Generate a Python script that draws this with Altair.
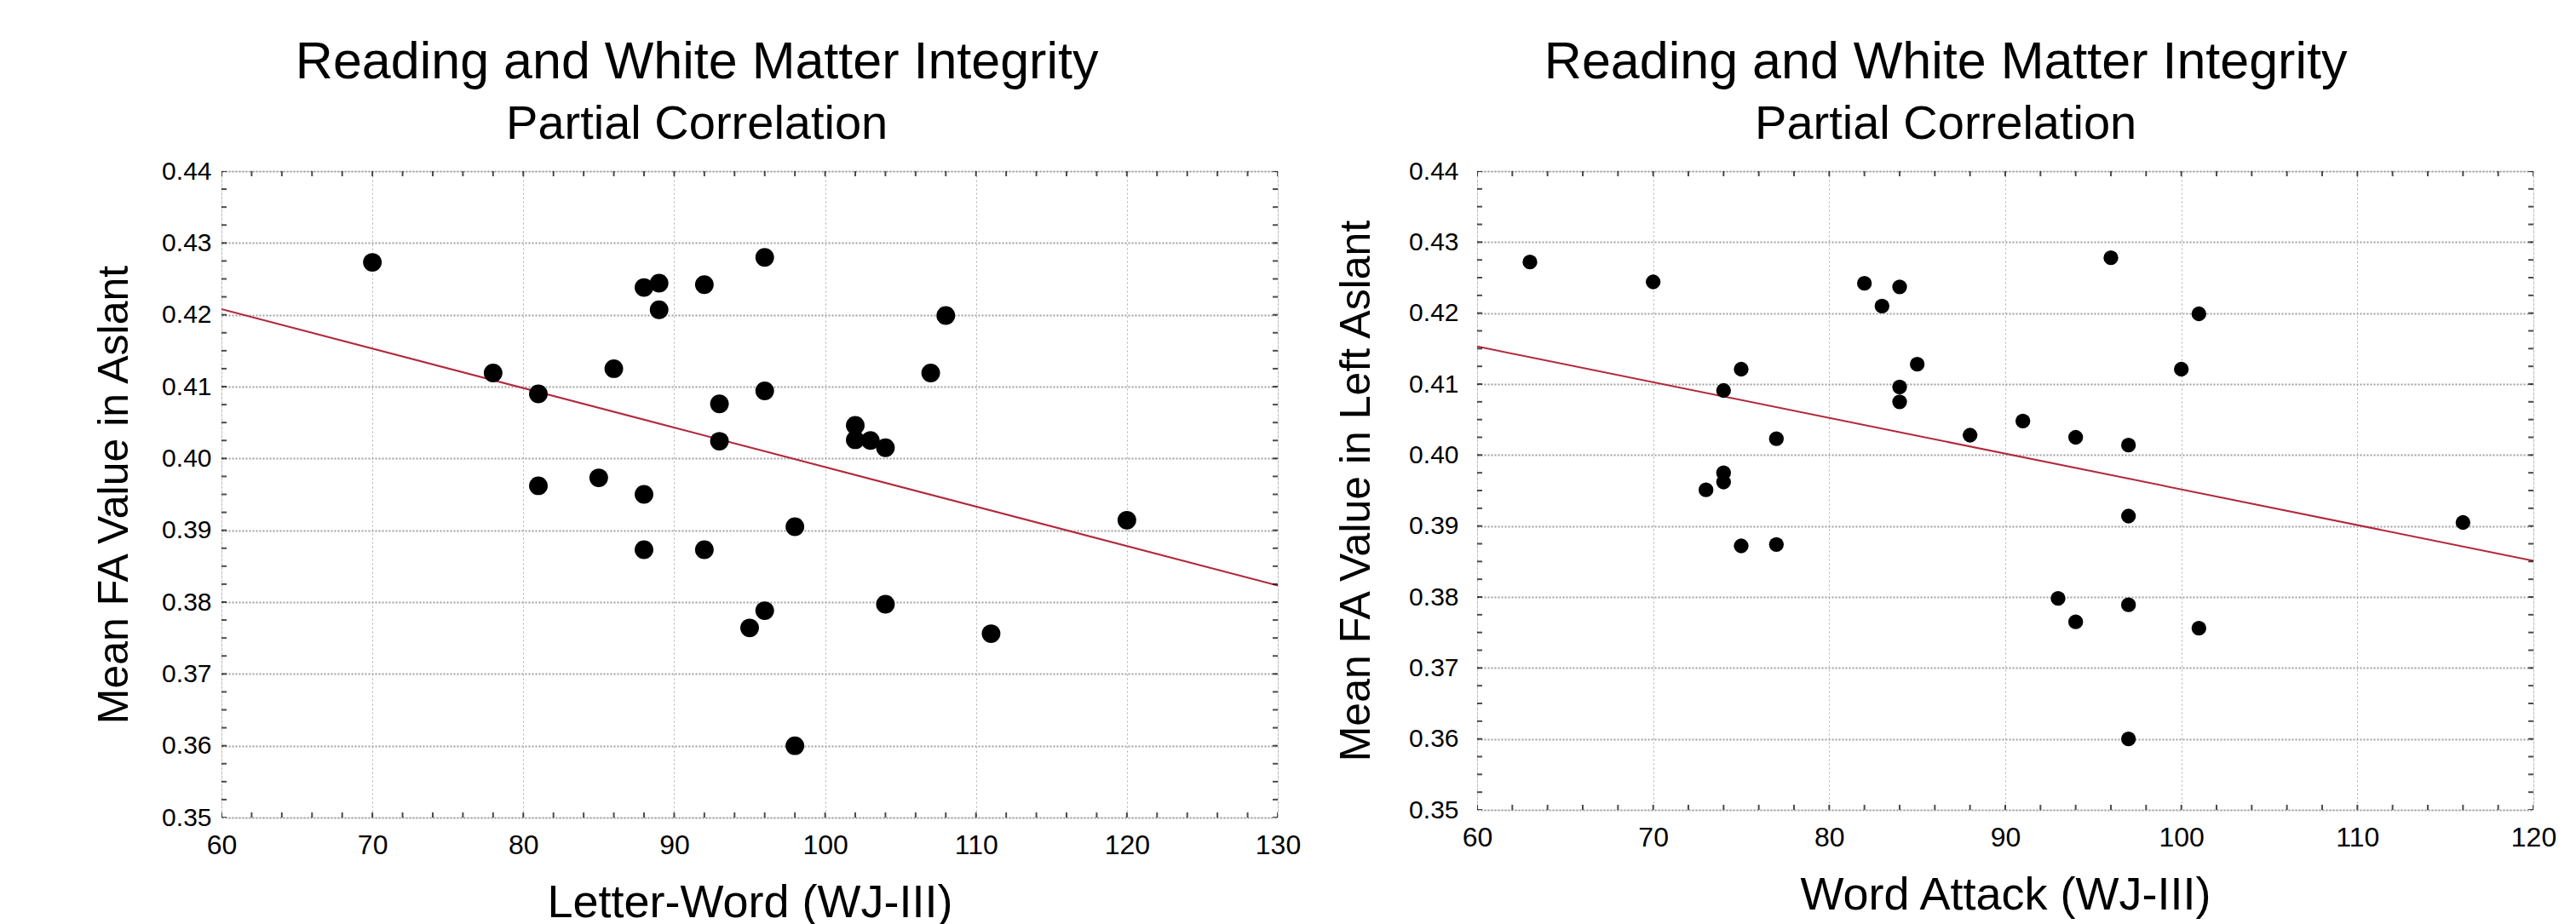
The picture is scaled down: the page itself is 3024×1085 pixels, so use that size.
import altair as alt
import pandas as pd
import numpy as np

# ---- data ----
left_x = [70, 96, 88, 89, 92, 89, 108, 78, 86, 107, 81, 96, 93, 102, 93, 102, 103, 104,
          81, 85, 88, 98, 88, 92, 120, 104, 96, 95, 111, 98]
left_y = [0.4273, 0.4280, 0.4238, 0.4244, 0.4242, 0.4207, 0.4199, 0.4119, 0.4125, 0.4119,
          0.4090, 0.4094, 0.4076, 0.4046, 0.4024, 0.4026, 0.4025, 0.4015,
          0.3962, 0.3973, 0.3950, 0.3905, 0.3873, 0.3873, 0.3914, 0.3797, 0.3788, 0.3764,
          0.3756, 0.3600]
left_fit_x = [60, 130]
left_fit_y = [0.4208, 0.3823]

right_x = [63, 70, 82, 84, 83, 96, 101, 75, 85, 100, 74, 84, 84, 91, 88, 94, 77, 97,
           74, 74, 73, 75, 77, 97, 116, 93, 97, 94, 101, 97]
right_y = [0.4272, 0.4244, 0.4242, 0.4237, 0.4210, 0.4278, 0.4199, 0.4121, 0.4128, 0.4121,
           0.4091, 0.4096, 0.4075, 0.4048, 0.4028, 0.4025, 0.4023, 0.4014,
           0.3975, 0.3962, 0.3951, 0.3872, 0.3874, 0.3914, 0.3905, 0.3798, 0.3789, 0.3765,
           0.3756, 0.3600]
right_fit_x = [60, 120]
right_fit_y = [0.4153, 0.3851]

title_text = "Reading and White Matter Integrity"
subtitle_text = "Partial Correlation"
left_xtitle = "Letter-Word (WJ-III)"
left_ytitle = "Mean FA Value in Aslant"
right_xtitle = "Word Attack (WJ-III)"
right_ytitle = "Mean FA Value in Left Aslant"

y_ticks = [0.35, 0.36, 0.37, 0.38, 0.39, 0.40, 0.41, 0.42, 0.43, 0.44]
left_x_ticks = [60, 70, 80, 90, 100, 110, 120, 130]
right_x_ticks = [60, 70, 80, 90, 100, 110, 120]

FONT = "Liberation Sans"


def panel(xs, ys, fx, fy, xticks, xtitle, ytitle, w, h, psize, ytitle_pad, ylab_pad):
    xmin, xmax = xticks[0], xticks[-1]
    ymin, ymax = y_ticks[0], y_ticks[-1]
    xscale = alt.Scale(domain=[xmin, xmax], nice=False, zero=False)
    yscale = alt.Scale(domain=[ymin, ymax], nice=False, zero=False)
    xaxis = alt.Axis(values=xticks, title=xtitle, titleFontSize=54, titleFont=FONT,
                     titleFontWeight="normal", titleColor="black", titlePadding=25,
                     labelFontSize=32, labelFont=FONT, labelColor="black", labelPadding=17,
                     labelFlush=False, labelOverlap=False,
                     ticks=False, domain=False, grid=True, gridColor="#b0b0b0",
                     gridDash=[2, 3], gridWidth=1)
    yaxis = alt.Axis(values=y_ticks, format=".2f", title=ytitle, titleFontSize=50,
                     titleFont=FONT, titleFontWeight="normal", titleColor="black",
                     titlePadding=ytitle_pad, labelFontSize=30, labelFont=FONT,
                     labelColor="black", labelPadding=ylab_pad, labelFlush=False,
                     labelOverlap=False, ticks=False, domain=False,
                     grid=True, gridColor="#a0a0a0", gridDash=[2, 2], gridWidth=2)
    xenc = alt.X("x:Q", scale=xscale, axis=xaxis)
    yenc = alt.Y("y:Q", scale=yscale, axis=yaxis)

    pts = pd.DataFrame({"x": xs, "y": ys})
    fit = pd.DataFrame({"x": fx, "y": fy})

    minor_x = np.arange(xmin, xmax + 0.001, 2)
    minor_y = np.arange(ymin, ymax + 0.00001, 0.0025)
    top_bot = pd.DataFrame({"x": np.concatenate([minor_x, minor_x]),
                            "y": [ymax] * len(minor_x) + [ymin] * len(minor_x)})
    lef_rig = pd.DataFrame({"x": [xmin] * len(minor_y) + [xmax] * len(minor_y),
                            "y": np.concatenate([minor_y, minor_y])})

    line = alt.Chart(fit).mark_line(color="#b3283c", strokeWidth=2, clip=True).encode(x=xenc, y=yenc)
    dots = alt.Chart(pts).mark_circle(color="black", opacity=1, size=psize).encode(x=xenc, y=yenc)
    tk1 = alt.Chart(top_bot).mark_tick(orient="vertical", color="black", size=12,
                                       thickness=2, clip=True).encode(x=xenc, y=yenc)
    tk2 = alt.Chart(lef_rig).mark_tick(orient="horizontal", color="black", size=12,
                                       thickness=2, clip=True).encode(x=xenc, y=yenc)
    return alt.layer(line, dots, tk1, tk2).properties(
        width=w, height=h,
        title=alt.TitleParams(text=title_text, subtitle=subtitle_text, fontSize=61,
                              subtitleFontSize=56, font=FONT, subtitleFont=FONT,
                              fontWeight="normal", color="black", subtitleColor="black",
                              anchor="middle", frame="bounds", offset=11,
                              subtitlePadding=14),
    )


left = panel(left_x, left_y, left_fit_x, left_fit_y, left_x_ticks, left_xtitle,
             left_ytitle, 1240, 759, 480, 30, 12)
right = panel(right_x, right_y, right_fit_x, right_fit_y, right_x_ticks, right_xtitle,
              right_ytitle, 1240, 750, 300, 36, 22)

chart = alt.hconcat(left, right, spacing=234, bounds="flush").properties(
    padding={"left": 101, "top": 34, "right": 5, "bottom": 0}
).configure_view(stroke="black", strokeWidth=3.5).configure(background="white")

chart.save("out.html", embed_options={"renderer": "svg", "actions": False})
